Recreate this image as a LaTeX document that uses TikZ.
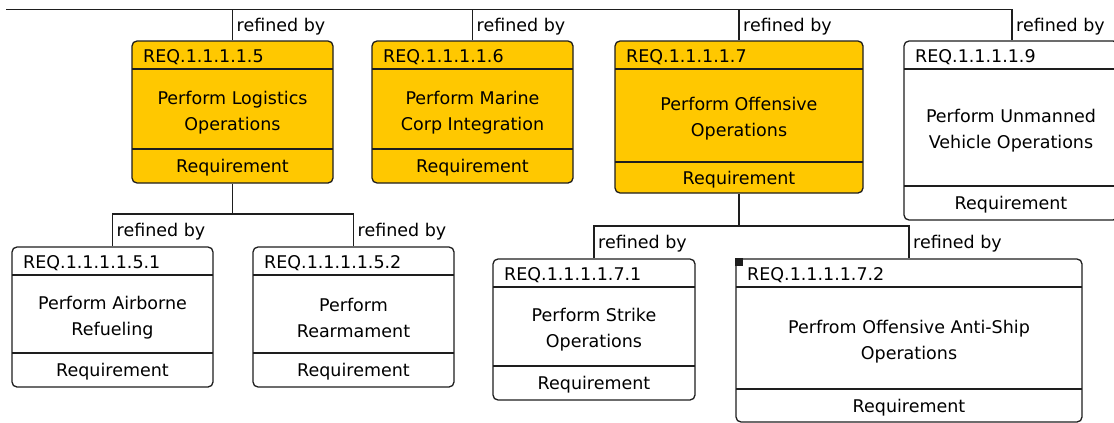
\documentclass[tikz,border=0pt]{standalone}
\usepackage{fontspec}
\setmainfont{DejaVu Sans}
\usetikzlibrary{fit}

\definecolor{reqyellow}{RGB}{255,200,0}
\definecolor{inkline}{RGB}{30,30,30}

\tikzset{
  reqframe/.style={draw=inkline, line width=1.3pt, rounded corners=5pt, inner sep=0pt},
  yellowreq/.style={reqframe, fill=reqyellow},
  whitereq/.style={reqframe, fill=white},
  divider/.style={draw=inkline, line width=1.3pt},
  reqtext/.style={font=\fontsize{17.5}{26}\selectfont, text=black, inner sep=0pt},
  link/.style={draw=inkline, line width=1.3pt},
  linklabel/.style={reqtext, anchor=base west},
}

% #1 name, #2 left, #3 top, #4 right, #5 bottom, #6 footer line, #7 style, #8 id, #9 title
\newcommand\reqbox[9]{%
  \node[#7, fit={(#2,#3) (#4,#5)}] (#1) {};
  \draw[divider] (#2,{#3+28}) -- (#4,{#3+28});
  \draw[divider] (#2,#6) -- (#4,#6);
  \node[reqtext, anchor=base west] (#1-id) at ({#2+11},{#3+21}) {#8};
  \node[reqtext, align=center] (#1-title) at ({(#2+#4)/2},{(#3+28+#6)/2+3.5}) {#9};
  \node[reqtext] (#1-kind) at ({(#2+#4)/2},{(#6+#5)/2+2}) {Requirement};
}

\begin{document}
\begin{tikzpicture}[x=1pt, y=-1pt]
  \useasboundingbox (0,0) rectangle (1114,423);
  \fill[white] (0,0) rectangle (1114,423);
  \clip (0,0) rectangle (1114,423);

  % first level requirements
  \reqbox{b5}{132}{41}{333}{183}{149}{yellowreq}{REQ.1.1.1.1.5}{Perform Logistics\\Operations}
  \reqbox{b6}{372}{41}{573}{183}{149}{yellowreq}{REQ.1.1.1.1.6}{Perform Marine\\Corp Integration}
  \reqbox{b7}{615}{41}{863}{193}{162}{yellowreq}{REQ.1.1.1.1.7}{Perform Offensive\\Operations}
  \reqbox{b9}{904}{41}{1118}{220}{186}{whitereq}{REQ.1.1.1.1.9}{Perform Unmanned\\Vehicle Operations}

  % second level requirements
  \reqbox{b51}{12}{247}{213}{387}{353}{whitereq}{REQ.1.1.1.1.5.1}{Perform Airborne\\Refueling}
  \reqbox{b52}{253}{247}{454}{387}{353}{whitereq}{REQ.1.1.1.1.5.2}{Perform\\Rearmament}
  \reqbox{b71}{493}{259}{695}{400}{366}{whitereq}{REQ.1.1.1.1.7.1}{Perform Strike\\Operations}
  \reqbox{b72}{736}{259}{1082}{422}{389}{whitereq}{REQ.1.1.1.1.7.2}{Perfrom Offensive Anti-Ship\\Operations}

  % selection marker
  \fill[inkline] (b72.north west) rectangle ++(8,8);

  % top rail
  \coordinate (rail-start) at (6,9.5);
  \coordinate (rail-end) at (1012,9.5);
  \draw[link] (rail-start) -- (rail-end) -- (rail-end |- b9.north);
  \draw[link] (b5.north) -- (b5.north |- rail-start);
  \draw[link] (b6.north) -- (b6.north |- rail-start);
  \draw[link] (b7.north) -- (b7.north |- rail-start);

  \node[linklabel] (l5) at ([xshift=4pt, yshift=9pt]b5.north) {refined by};
  \node[linklabel] (l6) at ([xshift=4pt, yshift=9pt]b6.north) {refined by};
  \node[linklabel] (l7) at ([xshift=4pt, yshift=9pt]b7.north) {refined by};
  \node[linklabel] (l9) at ([xshift=4pt, yshift=9pt]rail-end |- b9.north) {refined by};

  % refinement of REQ.1.1.1.1.5
  \coordinate (fork5) at (232.5,214);
  \draw[link] (b5.south) -- (fork5);
  \draw[link] (b51.north) |- (fork5) -| (b52.north);
  \node[linklabel] (l51) at ([xshift=4pt, yshift=10pt]b51.north) {refined by};
  \node[linklabel] (l52) at ([xshift=4pt, yshift=10pt]b52.north) {refined by};

  % refinement of REQ.1.1.1.1.7
  \coordinate (fork7) at (739,226);
  \draw[link] (b7.south) -- (fork7);
  \draw[link] (b71.north) |- (fork7) -| (b72.north);
  \node[linklabel] (l71) at ([xshift=4pt, yshift=10pt]b71.north) {refined by};
  \node[linklabel] (l72) at ([xshift=4pt, yshift=10pt]b72.north) {refined by};
\end{tikzpicture}
\end{document}
